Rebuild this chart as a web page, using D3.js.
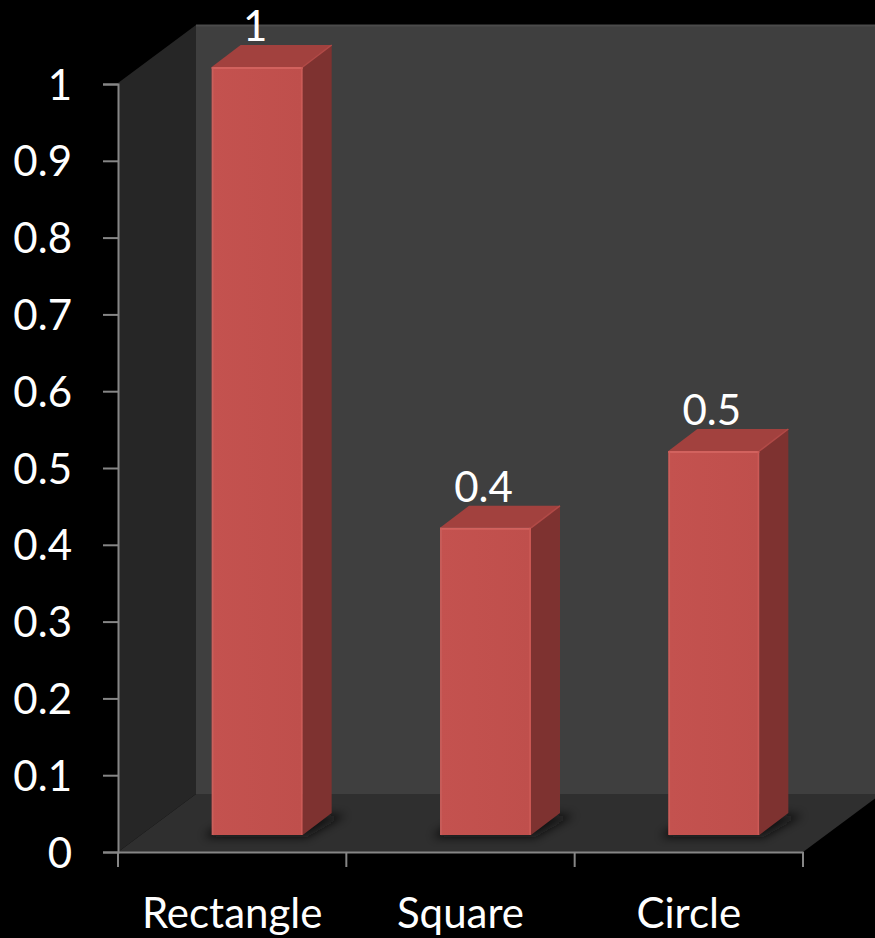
<!DOCTYPE html>
<html>
<head>
<meta charset="utf-8">
<script src="https://cdn.jsdelivr.net/npm/d3@7"></script>
<style>
  html, body { margin: 0; padding: 0; background: #000; }
  svg { display: block; }
  text { font-family: Lato, "Open Sans", sans-serif; fill: #fff; }
</style>
</head>
<body>
<svg id="chart" width="875" height="938"></svg>
<script>
// Chart data
const categories = ["Rectangle", "Square", "Circle"];
const values = [1, 0.4, 0.5];
const tickValues = [0, 0.1, 0.2, 0.3, 0.4, 0.5, 0.6, 0.7, 0.8, 0.9, 1];
const tickLabels = ["0", "0.1", "0.2", "0.3", "0.4", "0.5", "0.6", "0.7", "0.8", "0.9", "1"];

const W = 875, H = 938;
const svg = d3.select("#chart");

// Plot frame (front plane) and 3D depth vectors
const plotLeft = 118, plotRight = 803, plotBottom = 852, plotTop = 84;
const depth = { dx: 78, dy: -58 };      // full floor/wall depth
const barFront = { dx: 25, dy: -17 };   // where the bar's front face sits
const barDepth = { dx: 29, dy: -22 };   // thickness of each bar
const barW = 91;

const x = d3.scaleBand().domain(categories).range([plotLeft, plotRight]).padding(0);
const y = d3.scaleLinear().domain([0, 1]).range([plotBottom, plotTop]);

const defs = svg.append("defs");
const blur = defs.append("filter").attr("id", "shadow")
  .attr("x", "-50%").attr("y", "-50%").attr("width", "200%").attr("height", "200%");
blur.append("feGaussianBlur").attr("stdDeviation", 5);

const frontGrad = defs.append("linearGradient").attr("id", "frontGrad")
  .attr("x1", 0).attr("y1", 0).attr("x2", 1).attr("y2", 0);
frontGrad.append("stop").attr("offset", "0%").attr("stop-color", "#c4524f");
frontGrad.append("stop").attr("offset", "100%").attr("stop-color", "#bf4f4c");

const pts = a => a.map(p => p.join(",")).join(" ");

// Back wall
const wallTopY = 25;
svg.append("rect")
  .attr("x", plotLeft + depth.dx).attr("y", wallTopY)
  .attr("width", W - (plotLeft + depth.dx) + 10).attr("height", plotBottom + depth.dy - wallTopY)
  .attr("fill", "#3f3f3f");
svg.append("line")
  .attr("x1", plotLeft + depth.dx).attr("x2", W)
  .attr("y1", wallTopY + 0.5).attr("y2", wallTopY + 0.5)
  .attr("stroke", "#4b4b4b").attr("stroke-width", 2);

// Left side wall
svg.append("polygon")
  .attr("points", pts([
    [plotLeft, plotTop - 1],
    [plotLeft + depth.dx, wallTopY],
    [plotLeft + depth.dx, plotBottom + depth.dy],
    [plotLeft, plotBottom]
  ]))
  .attr("fill", "#262626");

// Floor
svg.append("polygon")
  .attr("points", pts([
    [plotLeft, plotBottom],
    [plotLeft + depth.dx, plotBottom + depth.dy],
    [plotRight + depth.dx, plotBottom + depth.dy],
    [plotRight, plotBottom]
  ]))
  .attr("fill", "#2f2f2f");

// Bars
const bars = svg.append("g").selectAll("g.bar")
  .data(categories.map((c, i) => ({ c, v: values[i], label: String(values[i]) })))
  .join("g").attr("class", "bar");

bars.each(function(d) {
  const g = d3.select(this);
  const x0 = x(d.c) + x.bandwidth() / 2 + barFront.dx - barW / 2;
  const x1 = x0 + barW;
  const yb = y(0) + barFront.dy;
  const yt = y(d.v) + barFront.dy;
  const ddx = barDepth.dx, ddy = barDepth.dy;

  // soft shadow on the floor
  g.append("polygon")
    .attr("points", pts([
      [x0 - 6, yb + 2], [x1 + 4, yb + 2], [x1 + ddx + 14, yb + ddy + 2],
      [x0 + ddx, yb + ddy], [x0 - 6, yb]
    ]))
    .attr("fill", "#111").attr("opacity", 0.85).attr("filter", "url(#shadow)");

  // side face
  g.append("polygon")
    .attr("points", pts([[x1, yt], [x1 + ddx, yt + ddy], [x1 + ddx, yb + ddy], [x1, yb]]))
    .attr("fill", "#7e3230");
  // top face
  g.append("polygon")
    .attr("points", pts([[x0, yt], [x0 + ddx, yt + ddy], [x1 + ddx, yt + ddy], [x1, yt]]))
    .attr("fill", "#a2413e");
  // front face
  g.append("rect")
    .attr("x", x0).attr("y", yt).attr("width", barW).attr("height", yb - yt)
    .attr("fill", "url(#frontGrad)");
  // bevel highlights
  g.append("line").attr("x1", x0).attr("x2", x1).attr("y1", yt + 1).attr("y2", yt + 1)
    .attr("stroke", "#d2625e").attr("stroke-width", 2);
  g.append("line").attr("x1", x0 + 1).attr("x2", x0 + 1).attr("y1", yt).attr("y2", yb)
    .attr("stroke", "#c9605c").attr("stroke-width", 1.5);
  g.append("line").attr("x1", x1 - 1).attr("x2", x1 - 1).attr("y1", yt).attr("y2", yb)
    .attr("stroke", "#cc5a56").attr("stroke-width", 1.5);
  g.append("line").attr("x1", x1).attr("x2", x1 + ddx).attr("y1", yt).attr("y2", yt + ddy)
    .attr("stroke", "#b24a47").attr("stroke-width", 1.5);

  // value label
  g.append("text")
    .attr("x", x(d.c) + x.bandwidth() / 2 + 23)
    .attr("y", yt - 26)
    .attr("text-anchor", "middle")
    .attr("font-size", 42)
    .text(d.label);
});

// Value axis
const axisColor = "#868686";
const yAxis = svg.append("g")
  .attr("transform", `translate(${plotLeft},0)`)
  .call(d3.axisLeft(y).tickValues(tickValues).tickSize(15).tickPadding(0)
    .tickFormat((d, i) => tickLabels[i]));
yAxis.select(".domain").attr("stroke", axisColor).attr("stroke-width", 2);
yAxis.selectAll(".tick line").attr("stroke", axisColor).attr("stroke-width", 2);
yAxis.selectAll(".tick text")
  .attr("x", -46).attr("dy", "0.36em")
  .attr("font-size", 42).attr("font-family", "Lato, 'Open Sans', sans-serif")
  .attr("fill", "#fff");

// Category axis
const xAxis = svg.append("g")
  .attr("transform", `translate(0,${plotBottom})`)
  .call(d3.axisBottom(x).tickValues([]).tickSizeOuter(0));
xAxis.select(".domain").attr("stroke", axisColor).attr("stroke-width", 2);
const edges = [plotLeft, ...categories.map(c => x(c) + x.bandwidth())];
xAxis.selectAll("line.edge").data(edges).join("line").attr("class", "edge")
  .attr("x1", d => d).attr("x2", d => d).attr("y1", 0).attr("y2", 15)
  .attr("stroke", axisColor).attr("stroke-width", 2);
xAxis.selectAll("text.cat").data(categories).join("text").attr("class", "cat")
  .attr("x", d => x(d) + x.bandwidth() / 2)
  .attr("y", 76)
  .attr("text-anchor", "middle")
  .attr("font-size", 42)
  .text(d => d);
</script>
</body>
</html>
